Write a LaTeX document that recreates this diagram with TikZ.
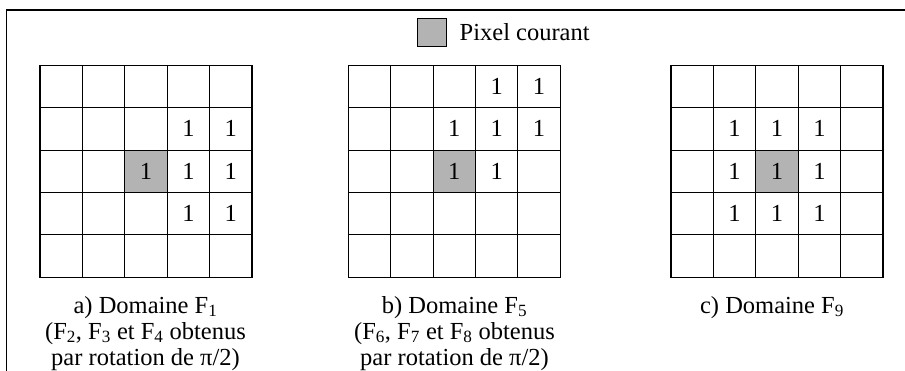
\documentclass[tikz,border=0pt]{standalone}
\usepackage{fontspec}
\setmainfont{Liberation Serif}
\definecolor{pixgray}{RGB}{179,179,179}
\begin{document}
\begin{tikzpicture}[x=1pt,y=-1pt,
  every node/.style={font=\fontsize{24.5}{26}\selectfont},
  cell/.style={draw, line width=1.1pt, minimum width=42.4pt, minimum height=42.4pt, inner sep=0pt, anchor=center},
  cur22/.style={fill=pixgray},
  caption/.style={align=center, anchor=base, inner sep=0pt}]
\useasboundingbox (0,0) rectangle (905,370);
% frame (cropped)
\coordinate (fbl) at (6.5,372);
\coordinate (ftl) at (6.5,10);
\coordinate (ftr) at (906,10);
\draw[line width=1.1pt] (fbl) -- (ftl) -- (ftr);
% values
\foreach \r/\c in {1/3,1/4,2/2,2/3,2/4,3/3,3/4}
  {\expandafter\gdef\csname vala\r\c\endcsname{1}}
\foreach \r/\c in {0/3,0/4,1/2,1/3,1/4,2/2,2/3}
  {\expandafter\gdef\csname valb\r\c\endcsname{1}}
\foreach \r/\c in {1/1,1/2,1/3,2/1,2/2,2/3,3/1,3/2,3/3}
  {\expandafter\gdef\csname valc\r\c\endcsname{1}}
% grids
\foreach \g/\x in {a/40, b/348.3, c/671}{
  \foreach \r in {0,...,4}{
    \foreach \c in {0,...,4}{
      \node[cell, cur\r\c/.try] (\g\r\c) at ({\x+(\c+0.5)*42.4},{65.3+(\r+0.5)*42.4}) {\csname val\g\r\c\endcsname};
    }
  }
}
% legend
\node[cell, fill=pixgray, minimum width=29pt, minimum height=27.7pt] (legbox) at (432.3,32.2) {};
\node[anchor=base west, inner sep=0pt] (legtext) at (459.5,40) {Pixel courant};
% captions (base = last line)
\node[caption] (capa) at (145.5,365) {a) Domaine F\textsubscript{1}\\(F\textsubscript{2}, F\textsubscript{3} et F\textsubscript{4} obtenus\\par rotation de π/2)};
\node[caption] (capb) at (454.5,365) {b) Domaine F\textsubscript{5}\\(F\textsubscript{6}, F\textsubscript{7} et F\textsubscript{8} obtenus\\par rotation de π/2)};
\node[caption] (capc) at (772,313) {c) Domaine F\textsubscript{9}};
\end{tikzpicture}
\end{document}
